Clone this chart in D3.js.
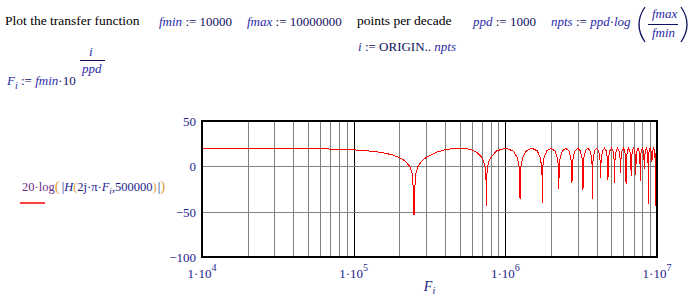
<!DOCTYPE html>
<html>
<head>
<meta charset="utf-8">
<script src="https://cdn.jsdelivr.net/npm/d3@7"></script>
<style>
  body { margin: 0; background: #fff; }
  text { font-family: "Liberation Serif", "Times New Roman", serif; }
</style>
</head>
<body>
<div id="chart"></div>
<script>
// frequency in MHz, gain in dB
var freqMHz = [
  0.01, 0.02, 0.04, 0.06, 0.08, 0.10, 0.12, 0.14, 0.16, 0.18, 0.20, 0.22, 0.235, 0.245, 0.25, 0.255, 0.265, 0.28, 0.30, 0.35, 0.40, 0.45,
  0.50, 0.55, 0.60, 0.65, 0.70, 0.72, 0.735, 0.745, 0.75, 0.755, 0.765, 0.78, 0.80, 0.875,
  1.00, 1.125, 1.20, 1.235, 1.245, 1.25, 1.255, 1.265, 1.30, 1.375,
  1.50, 1.625, 1.70, 1.735, 1.745, 1.75, 1.755, 1.765, 1.80, 1.875,
  2.00, 2.125, 2.20, 2.23, 2.25, 2.27, 2.30, 2.375,
  2.50, 2.625, 2.70, 2.73, 2.75, 2.77, 2.80, 2.875,
  3.00, 3.125, 3.20, 3.23, 3.25, 3.27, 3.30, 3.375,
  3.50, 3.625, 3.70, 3.73, 3.75, 3.77, 3.80, 3.875,
  4.00, 4.125, 4.20, 4.23, 4.25, 4.27, 4.30, 4.375,
  4.50, 4.625, 4.70, 4.73, 4.75, 4.77, 4.80, 4.875,
  5.00, 5.125, 5.20, 5.23, 5.25, 5.27, 5.30, 5.375,
  5.50, 5.625, 5.70, 5.73, 5.75, 5.77, 5.80, 5.875,
  6.00, 6.125, 6.20, 6.23, 6.25, 6.27, 6.30, 6.375,
  6.50, 6.625, 6.70, 6.73, 6.75, 6.77, 6.80, 6.875,
  7.00, 7.125, 7.20, 7.23, 7.25, 7.27, 7.30, 7.375,
  7.50, 7.625, 7.70, 7.73, 7.75, 7.77, 7.80, 7.875,
  8.00, 8.125, 8.20, 8.23, 8.25, 8.27, 8.30, 8.375,
  8.50, 8.625, 8.70, 8.73, 8.75, 8.77, 8.80, 8.875,
  9.00, 9.125, 9.20, 9.25, 9.30, 9.375,
  9.50, 9.625, 9.70, 9.73, 9.75, 9.77, 9.80, 9.875,
  10.0
];
var gainDb = [
  20.0, 19.9, 19.7, 19.4, 18.8, 18.2, 17.3, 16.1, 14.6, 12.6, 9.8, 5.5, -0.5, -10, -54, -10, -0.5, 5.5, 9.8, 15.4, 18.2, 19.6,
  20, 19.6, 18.2, 15.4, 9.8, 5.5, -0.5, -10, -44, -10, -0.5, 5.5, 9.8, 17,
  20, 17, 9.8, -0.5, -10, -36, -10, -0.5, 9.8, 17,
  20, 17, 9.8, -0.5, -10, -40, -10, -0.5, 9.8, 17,
  20, 17, 9.8, 2, -25, 2, 9.8, 17,
  20, 17, 9.8, 2, -18, 2, 9.8, 17,
  20, 17, 9.8, 2, -26, 2, 9.8, 17,
  20, 17, 9.8, 2, -36, 2, 9.8, 17,
  20, 17, 9.8, 2, -13, 2, 9.8, 17,
  20, 17, 9.8, 2, -15, 2, 9.8, 17,
  20, 17, 9.8, 2, -18.5, 2, 9.8, 17,
  20, 17, 9.8, 2, -7.5, 2, 9.8, 17,
  20, 17, 9.8, 2, -20, 2, 9.8, 17,
  20, 17, 9.8, 2, -11, 2, 9.8, 17,
  20, 17, 9.8, 2, -9, 2, 9.8, 17,
  20, 17, 9.8, 2, -16.7, 2, 9.8, 17,
  20, 17, 9.8, 2, -2.6, 2, 9.8, 17,
  20, 17, 9.8, 2, -41, 2, 9.8, 17,
  20, 17, 9.8, 5, 9.8, 17,
  20, 17, 9.8, 2, -44, 2, 9.8, 17,
  20
];
var yTicks = [50, 0, -50, -100];
var xDecades = [4, 5, 6, 7];

var W = 691, H = 304;
var navy = "#1c1c8c", blue = "#2a2aa8";

var svg = d3.select("#chart")
    .append("svg")
    .attr("width", W)
    .attr("height", H);

var pLeft = 202, pRight = 657, pTop = 121, pBottom = 257;

var x = d3.scaleLog().domain([1e4, 1e7]).range([pLeft, pRight]);
var y = d3.scaleLinear().domain([-100, 50]).range([pBottom, pTop]);

// grid: minor log lines gray, decade lines black
var minor = [];
for (var k = 4; k < 7; k++)
  for (var m = 2; m <= 9; m++) minor.push(m * Math.pow(10, k));

var grid = svg.append("g").attr("shape-rendering", "crispEdges");

grid.append("g")
  .attr("transform", "translate(0," + pBottom + ")")
  .call(d3.axisBottom(x).tickValues(minor).tickSize(-(pBottom - pTop)).tickFormat(""))
  .call(function(g) {
    g.select(".domain").remove();
    g.selectAll("line").attr("stroke", "#808080");
  });

grid.append("g")
  .attr("transform", "translate(0," + pBottom + ")")
  .call(d3.axisBottom(x).tickValues([1e5, 1e6]).tickSize(-(pBottom - pTop)).tickFormat(""))
  .call(function(g) {
    g.select(".domain").remove();
    g.selectAll("line").attr("stroke", "#000");
  });

grid.append("g")
  .attr("transform", "translate(" + pLeft + ",0)")
  .call(d3.axisLeft(y).tickValues([0, -50]).tickSize(-(pRight - pLeft)).tickFormat(""))
  .call(function(g) {
    g.select(".domain").remove();
    g.selectAll("line").attr("stroke", "#808080");
  });

// curve
var pts = freqMHz.map(function(f, i) { return [f * 1e6, gainDb[i]]; });
svg.append("path")
  .datum(pts)
  .attr("fill", "none")
  .attr("stroke", "#ff0000")
  .attr("stroke-width", 1)
  .attr("shape-rendering", "crispEdges")
  .attr("d", d3.line().x(function(d) { return x(d[0]); }).y(function(d) { return y(d[1]); }));

// frame
svg.append("rect")
  .attr("x", pLeft).attr("y", pTop)
  .attr("width", pRight - pLeft).attr("height", pBottom - pTop)
  .attr("fill", "none").attr("stroke", "#000").attr("stroke-width", 1.2)
  .attr("shape-rendering", "crispEdges");

// y tick labels
svg.selectAll(".ylab").data(yTicks).enter().append("text")
  .attr("x", 196).attr("y", function(d) { return y(d) + 5; })
  .attr("text-anchor", "end").attr("font-size", 13).attr("fill", navy)
  .text(function(d) { return d < 0 ? "\u2212" + Math.abs(d) : d; });

// x tick labels 1·10^n
var xl = svg.selectAll(".xlab").data(xDecades).enter().append("text")
  .attr("x", function(d) { return x(Math.pow(10, d)); }).attr("y", 278)
  .attr("text-anchor", "middle").attr("font-size", 13).attr("fill", navy);
xl.append("tspan").text("1\u00b710");
xl.append("tspan").attr("dy", -7).attr("font-size", 10).text(function(d) { return d; });

// x title
var xt = svg.append("text").attr("x", (pLeft + pRight) / 2).attr("y", 291)
  .attr("text-anchor", "middle").attr("font-size", 14).attr("fill", navy);
xt.append("tspan").attr("font-style", "italic").text("F");
xt.append("tspan").attr("font-style", "italic").attr("font-size", 10).attr("dy", 3).text("i");

// y title expression
var yt = svg.append("text").attr("x", 22).attr("y", 191).attr("font-size", 12.5).attr("fill", navy);
yt.append("tspan").attr("fill", "#6a2a8a").text("20\u00b7log");
yt.append("tspan").attr("fill", "#e0a040").attr("font-size", 15).text("(");
yt.append("tspan").attr("dx", 2).text("|");
yt.append("tspan").attr("font-style", "italic").text("H");
yt.append("tspan").attr("fill", "#e0a040").text("(");
yt.append("tspan").text("2j\u00b7\u03c0\u00b7");
yt.append("tspan").attr("font-style", "italic").text("F");
yt.append("tspan").attr("font-style", "italic").attr("font-size", 9).attr("dy", 3).text("i");
yt.append("tspan").attr("dy", -3).text(",500000");
yt.append("tspan").attr("fill", "#e0a040").text(")");
yt.append("tspan").attr("dx", 1).text("|");
yt.append("tspan").attr("fill", "#e0a040").attr("font-size", 15).text(")");
svg.append("line").attr("x1", 20).attr("x2", 45).attr("y1", 203).attr("y2", 203)
  .attr("stroke", "#ff0000").attr("stroke-width", 1.5);

// header text
function mathText(xp, yp, parts) {
  var t = svg.append("text").attr("x", xp).attr("y", yp).attr("font-size", 13).attr("fill", "#101060");
  parts.forEach(function(p) {
    var s = t.append("tspan").text(p[0]);
    if (p[1] == "v") s.attr("font-style", "italic").attr("fill", blue);
    if (p[1] == "sub") s.attr("font-style", "italic").attr("fill", blue).attr("font-size", 10).attr("dy", 4);
    if (p[1] == "up") s.attr("dy", -4);
  });
  return t;
}

svg.append("text").attr("x", 5).attr("y", 25).attr("font-size", 13.5).attr("fill", "#000")
  .text("Plot the transfer function");
svg.append("text").attr("x", 357).attr("y", 25).attr("font-size", 13.5).attr("fill", "#000")
  .text("points per decade");

mathText(159, 26, [["fmin", "v"], [" := 10000"]]);
mathText(247, 26, [["fmax", "v"], [" := 10000000"]]);
mathText(473, 26, [["ppd", "v"], [" := 1000"]]);
mathText(551, 26, [["npts", "v"], [" := "], ["ppd", "v"], ["\u00b7"], ["log", "v"]]);
mathText(652, 18, [["fmax", "v"]]);
mathText(652, 37, [["fmin", "v"]]);
svg.append("line").attr("x1", 648).attr("x2", 678).attr("y1", 24.5).attr("y2", 24.5)
  .attr("stroke", "#101060").attr("stroke-width", 1);
svg.append("path").attr("d", "M645,7 Q633,24.5 645,42").attr("fill", "none").attr("stroke", "#101060").attr("stroke-width", 1.3);
svg.append("path").attr("d", "M681,7 Q693,24.5 681,42").attr("fill", "none").attr("stroke", "#101060").attr("stroke-width", 1.3);

mathText(358, 51, [["i", "v"], [" := ORIGIN.. "], ["npts", "v"]]);

mathText(7, 85, [["F", "v"], ["i", "sub"], [" := ", "up"], ["fmin", "v"], ["\u00b710"]]);
mathText(89, 56, [["i", "v"]]);
mathText(82, 73, [["ppd", "v"]]);
svg.append("line").attr("x1", 80).attr("x2", 105).attr("y1", 60.5).attr("y2", 60.5)
  .attr("stroke", "#101060").attr("stroke-width", 1);
</script>
</body>
</html>
